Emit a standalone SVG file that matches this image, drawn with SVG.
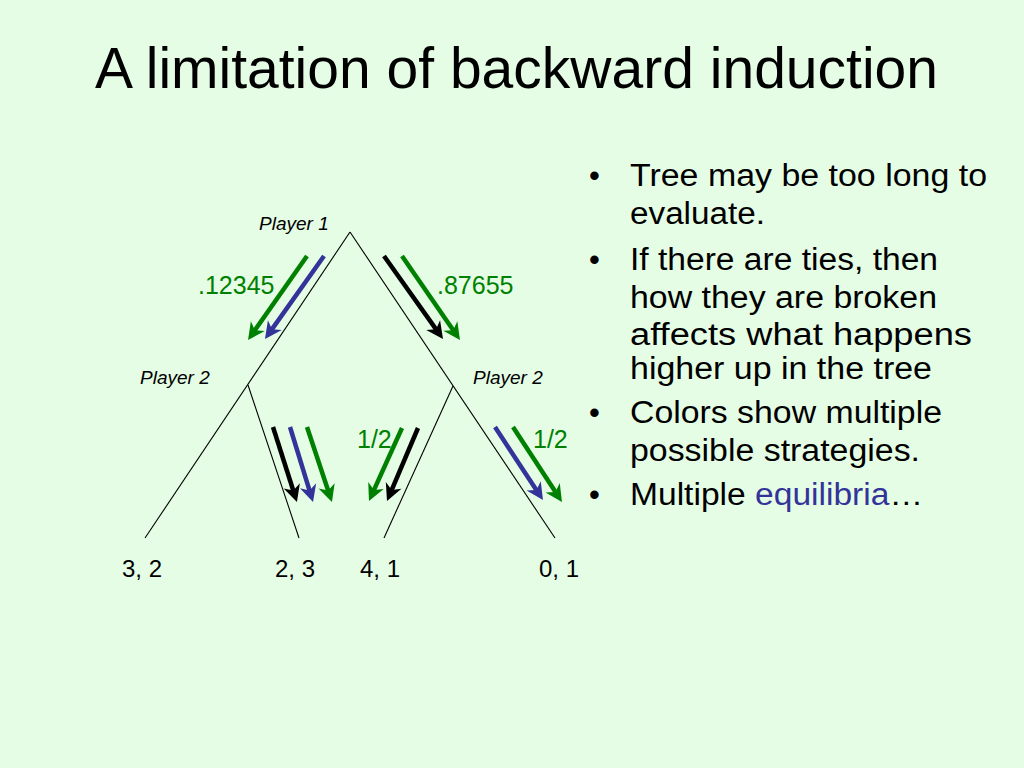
<svg xmlns="http://www.w3.org/2000/svg" width="1024" height="768" viewBox="0 0 1024 768">
<defs>
<style>
.t{font-family:"Liberation Sans",Arial,sans-serif;}
.title{font-size:57px;fill:#000;}
.lbl{font-size:19px;font-style:italic;fill:#000;}
.num{font-size:25px;fill:#008000;}
.leaf{font-size:24px;fill:#000;}
.bul{font-size:31px;fill:#000;}
.edge{stroke:#000;stroke-width:1.1;fill:none;}
.ag{stroke:#008000;stroke-width:4.5;fill:none;marker-end:url(#mg);}
.ab{stroke:#333399;stroke-width:4.5;fill:none;marker-end:url(#mb);}
.ak{stroke:#000;stroke-width:4.5;fill:none;marker-end:url(#mk);}
</style>
<marker id="mg" markerUnits="userSpaceOnUse" markerWidth="40" markerHeight="40" refX="0" refY="0" orient="auto" overflow="visible"><path d="M10,0 L-7,-8.5 L-2,0 L-7,8.5 Z" fill="#008000"/></marker>
<marker id="mb" markerUnits="userSpaceOnUse" markerWidth="40" markerHeight="40" refX="0" refY="0" orient="auto" overflow="visible"><path d="M10,0 L-7,-8.5 L-2,0 L-7,8.5 Z" fill="#333399"/></marker>
<marker id="mk" markerUnits="userSpaceOnUse" markerWidth="40" markerHeight="40" refX="0" refY="0" orient="auto" overflow="visible"><path d="M10,0 L-7,-8.5 L-2,0 L-7,8.5 Z" fill="#000"/></marker>
</defs>
<rect width="1024" height="768" fill="#e5fde5"/>
<text class="t title" x="95" y="88" textLength="843" lengthAdjust="spacingAndGlyphs">A limitation of backward induction</text>

<g id="connectors">
<line class="edge" x1="350" y1="232" x2="145" y2="538"/>
<line class="edge" x1="350" y1="232" x2="555" y2="538"/>
<line class="edge" x1="248" y1="385" x2="299" y2="538"/>
<line class="edge" x1="453" y1="386" x2="384" y2="538"/>
</g>

<g id="strategy-arrows">
<line class="ag" x1="307" y1="256" x2="253.8" y2="331.8"/>
<line class="ab" x1="324" y1="256" x2="270.8" y2="330.9"/>
<line class="ak" x1="384" y1="256" x2="437.2" y2="330.9"/>
<line class="ag" x1="402" y1="256" x2="454.3" y2="331.8"/>
<line class="ak" x1="273" y1="427" x2="293.9" y2="492.5"/>
<line class="ab" x1="290" y1="427" x2="310.1" y2="492.4"/>
<line class="ag" x1="307" y1="427" x2="328.8" y2="492.5"/>
<line class="ag" x1="402" y1="428" x2="373.1" y2="491.9"/>
<line class="ak" x1="418" y1="428" x2="390.9" y2="491.8"/>
<line class="ab" x1="495" y1="427" x2="537.5" y2="491.7"/>
<line class="ag" x1="513" y1="427" x2="556.5" y2="493.6"/>
</g>

<g id="node-player1"><text class="t lbl" x="259" y="230">Player 1</text></g>
<g id="node-player2-left"><text class="t lbl" x="140" y="384">Player 2</text></g>
<g id="node-player2-right"><text class="t lbl" x="473" y="384">Player 2</text></g>

<g id="probabilities">
<text class="t num" x="198" y="294">.12345</text>
<text class="t num" x="437" y="294">.87655</text>
<text class="t num" x="357" y="448">1/2</text>
<text class="t num" x="533" y="448">1/2</text>
</g>

<g id="leaf-32"><text class="t leaf" x="122" y="577">3, 2</text></g>
<g id="leaf-23"><text class="t leaf" x="275" y="577">2, 3</text></g>
<g id="leaf-41"><text class="t leaf" x="360" y="577">4, 1</text></g>
<g id="leaf-01"><text class="t leaf" x="539" y="577">0, 1</text></g>

<g id="bullets" class="t bul">
<text x="589" y="186">•</text>
<text x="630" y="186" textLength="357" lengthAdjust="spacingAndGlyphs">Tree may be too long to</text>
<text x="630" y="224" textLength="135" lengthAdjust="spacingAndGlyphs">evaluate.</text>
<text x="589" y="270">•</text>
<text x="630" y="270" textLength="308" lengthAdjust="spacingAndGlyphs">If there are ties, then</text>
<text x="630" y="308" textLength="307" lengthAdjust="spacingAndGlyphs">how they are broken</text>
<text x="630" y="345" textLength="342" lengthAdjust="spacingAndGlyphs">affects what happens</text>
<text x="630" y="379" textLength="302" lengthAdjust="spacingAndGlyphs">higher up in the tree</text>
<text x="589" y="423">•</text>
<text x="630" y="423" textLength="312" lengthAdjust="spacingAndGlyphs">Colors show multiple</text>
<text x="630" y="461" textLength="290" lengthAdjust="spacingAndGlyphs">possible strategies.</text>
<text x="589" y="505">•</text>
<text x="630" y="505" textLength="293" lengthAdjust="spacingAndGlyphs">Multiple <tspan fill="#333399">equilibria</tspan>…</text>
</g>
</svg>
